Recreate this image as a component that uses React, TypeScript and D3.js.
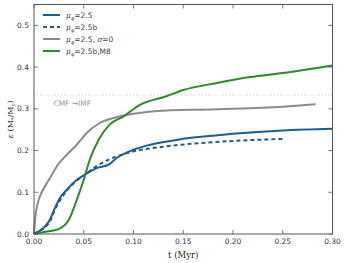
import React, { useEffect, useRef } from "react";
import * as d3 from "d3";

const tSolid = [0, 0.006, 0.011, 0.016, 0.021, 0.026, 0.033, 0.041, 0.051, 0.063, 0.075, 0.083, 0.1, 0.117, 0.15, 0.2, 0.25, 0.3];
const vSolid = [0, 0.008, 0.018, 0.034, 0.062, 0.086, 0.106, 0.126, 0.142, 0.158, 0.166, 0.182, 0.202, 0.214, 0.228, 0.24, 0.248, 0.252];

const tDashed = [0, 0.006, 0.011, 0.016, 0.021, 0.026, 0.033, 0.041, 0.051, 0.065, 0.083, 0.1, 0.133, 0.167, 0.2, 0.25];
const vDashed = [0, 0.008, 0.016, 0.03, 0.058, 0.08, 0.104, 0.124, 0.142, 0.166, 0.186, 0.198, 0.21, 0.218, 0.223, 0.228];

const tGray = [0, 0.001, 0.003, 0.006, 0.011, 0.016, 0.024, 0.033, 0.043, 0.053, 0.066, 0.08, 0.1, 0.133, 0.167, 0.2, 0.25, 0.283];
const vGray = [0, 0.034, 0.066, 0.09, 0.114, 0.134, 0.166, 0.19, 0.214, 0.242, 0.266, 0.278, 0.288, 0.296, 0.298, 0.3, 0.305, 0.311];

const tGreen = [0, 0.013, 0.024, 0.035, 0.043, 0.05, 0.056, 0.065, 0.076, 0.09, 0.107, 0.133, 0.15, 0.184, 0.217, 0.25, 0.3];
const vGreen = [0, 0.006, 0.011, 0.034, 0.082, 0.13, 0.178, 0.226, 0.262, 0.282, 0.31, 0.33, 0.345, 0.362, 0.376, 0.386, 0.404];

const xTicks = [0, 0.05, 0.1, 0.15, 0.2, 0.25, 0.3];
const yTicks = [0, 0.1, 0.2, 0.3, 0.4, 0.5];
const cmfLevel = 1 / 3;

const series = [
  { t: tSolid, v: vSolid, color: "#1f5b93", dash: "", main: "=2.5", extra: "" },
  { t: tDashed, v: vDashed, color: "#1f5b93", dash: "4,3", main: "=2.5b", extra: "" },
  { t: tGray, v: vGray, color: "#8a8a8a", dash: "", main: "=2.5, ", extra: "sigma" },
  { t: tGreen, v: vGreen, color: "#2c8a2c", dash: "", main: "=2.5b,M8", extra: "" },
];

export default function App() {
  const svgRef = useRef<SVGSVGElement>(null);
  const width = 345;
  const height = 263;

  useEffect(() => {
    const svg = d3.select(svgRef.current);
    svg.selectAll("*").remove();

    const margin = { top: 4.5, right: 12.5, bottom: 29, left: 34 };
    const x = d3.scaleLinear().domain([0, 0.3]).range([margin.left, width - margin.right]);
    const y = d3.scaleLinear().domain([0, 0.55]).range([height - margin.bottom, margin.top]);
    const font = "DejaVu Sans, sans-serif";

    // dotted CMF->IMF line
    svg.append("line")
      .attr("x1", x(0)).attr("x2", x(0.3))
      .attr("y1", y(cmfLevel)).attr("y2", y(cmfLevel))
      .attr("stroke", "#bbbbbb").attr("stroke-width", 0.8)
      .attr("stroke-dasharray", "1,2");

    svg.append("text")
      .attr("x", x(0.0195)).attr("y", y(cmfLevel) + 11)
      .attr("font-family", font).attr("font-size", 7.5)
      .attr("fill", "#999999")
      .text("CMF \u2192IMF");

    const line = d3.line<[number, number]>()
      .x((d) => x(d[0]))
      .y((d) => y(d[1]))
      .curve(d3.curveMonotoneX);

    series.forEach((s) => {
      svg.append("path")
        .datum(s.t.map((t, i) => [t, s.v[i]] as [number, number]))
        .attr("d", line)
        .attr("fill", "none")
        .attr("stroke", s.color)
        .attr("stroke-width", 2)
        .attr("stroke-linejoin", "round")
        .attr("stroke-dasharray", s.dash || null);
    });

    // frame
    svg.append("rect")
      .attr("x", x(0)).attr("y", y(0.55))
      .attr("width", x(0.3) - x(0)).attr("height", y(0) - y(0.55))
      .attr("fill", "none").attr("stroke", "#555555").attr("stroke-width", 1);

    // ticks (inward, all sides)
    const tk = svg.append("g").attr("stroke", "#555555").attr("stroke-width", 0.8);
    xTicks.forEach((t) => {
      tk.append("line").attr("x1", x(t)).attr("x2", x(t)).attr("y1", y(0)).attr("y2", y(0) - 4);
      tk.append("line").attr("x1", x(t)).attr("x2", x(t)).attr("y1", y(0.55)).attr("y2", y(0.55) + 4);
    });
    yTicks.forEach((v) => {
      tk.append("line").attr("x1", x(0)).attr("x2", x(0) + 4).attr("y1", y(v)).attr("y2", y(v));
      tk.append("line").attr("x1", x(0.3)).attr("x2", x(0.3) - 4).attr("y1", y(v)).attr("y2", y(v));
    });

    svg.append("g").selectAll("text").data(xTicks).enter().append("text")
      .attr("x", (d) => x(d)).attr("y", y(0) + 10)
      .attr("text-anchor", "middle")
      .attr("font-family", font).attr("font-size", 7.5).attr("fill", "#333")
      .text((d) => d.toFixed(2));

    svg.append("g").selectAll("text").data(yTicks).enter().append("text")
      .attr("x", x(0) - 5).attr("y", (d) => y(d) + 2.5)
      .attr("text-anchor", "end")
      .attr("font-family", font).attr("font-size", 7.5).attr("fill", "#333")
      .text((d) => d.toFixed(1));

    // x label
    svg.append("text")
      .attr("x", x(0.15)).attr("y", height - 5)
      .attr("text-anchor", "middle")
      .attr("font-family", "DejaVu Serif, serif").attr("font-size", 8.5).attr("fill", "#222")
      .text("t (Myr)");

    // y label
    const yl = svg.append("text")
      .attr("transform", `translate(13,${y(0.275)}) rotate(-90)`)
      .attr("text-anchor", "middle")
      .attr("font-family", "DejaVu Serif, serif").attr("font-size", 8).attr("fill", "#222");
    yl.append("tspan").attr("font-style", "italic").text("\u03b5");
    yl.append("tspan").text(" (M");
    yl.append("tspan").attr("font-size", 5.5).attr("dy", 2).text("*");
    yl.append("tspan").attr("dy", -2).text("/M");
    yl.append("tspan").attr("font-size", 5.5).attr("dy", 2).text("c");
    yl.append("tspan").attr("dy", -2).text(")");

    // legend
    series.forEach((s, i) => {
      const ly = 15 + i * 12;
      svg.append("line")
        .attr("x1", 43).attr("x2", 60).attr("y1", ly).attr("y2", ly)
        .attr("stroke", s.color).attr("stroke-width", 2)
        .attr("stroke-dasharray", s.dash || null);
      const tx = svg.append("text")
        .attr("x", 66).attr("y", ly + 3)
        .attr("font-family", font).attr("font-size", 7.5).attr("fill", "#444");
      tx.append("tspan").attr("font-style", "italic").attr("font-family", "DejaVu Serif, serif").text("\u03bc");
      tx.append("tspan").attr("font-style", "italic").attr("font-size", 5).attr("dy", 2).text("\u03c6");
      tx.append("tspan").attr("dy", -2).text(s.main);
      if (s.extra) {
        tx.append("tspan").attr("font-style", "italic").attr("font-family", "DejaVu Serif, serif").text("\u03c3");
        tx.append("tspan").text("=0");
      }
    });
  }, []);

  return (
    <svg
      ref={svgRef}
      width={width}
      height={height}
      style={{ position: "absolute", left: 0, top: 0, background: "#fff" }}
    />
  );
}
